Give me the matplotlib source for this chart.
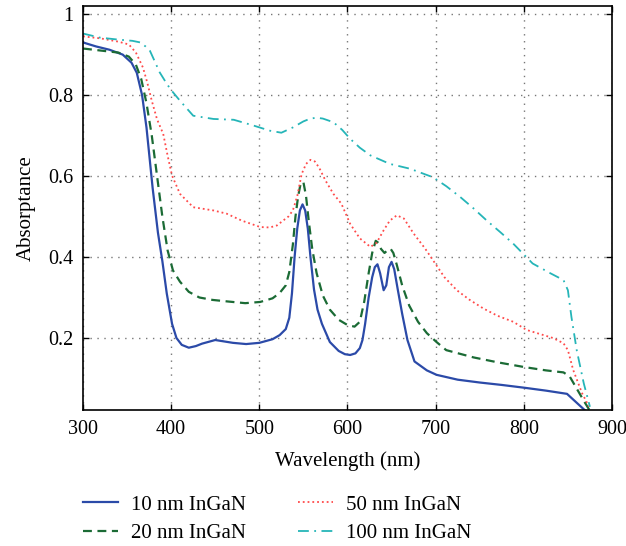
import matplotlib
matplotlib.use("Agg")
import matplotlib.pyplot as plt

# 10 nm InGaN
wl10 = [300, 315, 330, 345, 355, 361, 367, 372, 379, 385, 390, 395, 401, 406, 412, 420, 428,
        435, 450, 470, 485, 500, 515, 523, 530, 534, 537, 540, 543, 546, 549, 552, 555, 558,
        562, 566, 571, 580, 590, 597, 603, 609, 614, 617, 620, 624, 628, 631, 634, 637, 641,
        644, 647, 650, 653, 657, 662, 668, 676, 690, 701, 725, 750, 775, 801, 825, 849, 870]
ab10 = [0.93, 0.92, 0.912, 0.90, 0.88, 0.855, 0.80, 0.72, 0.57, 0.46, 0.39, 0.31, 0.235, 0.20,
        0.183, 0.176, 0.18, 0.186, 0.195, 0.188, 0.185, 0.188, 0.197, 0.207, 0.222, 0.25, 0.31,
        0.40, 0.47, 0.515, 0.53, 0.515, 0.47, 0.40, 0.32, 0.27, 0.235, 0.19, 0.168, 0.16, 0.158,
        0.162, 0.175, 0.195, 0.235, 0.30, 0.35, 0.375, 0.382, 0.36, 0.318, 0.33, 0.375, 0.388,
        0.37, 0.32, 0.26, 0.195, 0.142, 0.12, 0.109, 0.097, 0.09, 0.084, 0.077, 0.07, 0.062,
        0.02]

# 20 nm InGaN
wl20 = [300, 320, 340, 352, 360, 366, 372, 378, 384, 390, 396, 402, 410, 420, 432, 447, 465,
        484, 501, 515, 523, 530, 534, 538, 541, 544, 547, 550, 553, 556, 560, 565, 572, 580,
        590, 600, 608, 614, 619, 624, 628, 632, 635, 638, 642, 646, 649, 652, 656, 662, 670,
        680, 690, 701, 712, 724, 743, 770, 801, 825, 845, 852, 860, 868, 875]
ab20 = [0.915, 0.91, 0.905, 0.895, 0.875, 0.84, 0.78, 0.70, 0.60, 0.50, 0.416, 0.367, 0.339,
        0.314, 0.30, 0.294, 0.29, 0.286, 0.289, 0.298, 0.311, 0.33, 0.363, 0.43, 0.50, 0.55,
        0.583, 0.585, 0.55, 0.49, 0.42, 0.36, 0.305, 0.27, 0.245, 0.232, 0.228, 0.24, 0.29,
        0.36, 0.41, 0.44, 0.435, 0.42, 0.41, 0.418, 0.42, 0.41, 0.38, 0.33, 0.28, 0.24, 0.212,
        0.19, 0.17, 0.163, 0.152, 0.14, 0.128, 0.12, 0.115, 0.105, 0.075, 0.045, 0.02]

# 50 nm InGaN
wl50 = [300, 320, 340, 352, 360, 368, 373, 378, 384, 391, 396, 401, 410, 425, 448, 463, 480,
        501, 512, 520, 527, 533, 538, 543, 548, 553, 558, 563, 568, 575, 584, 593, 603, 614,
        626, 633, 641, 648, 656, 664, 675, 688, 697, 710, 724, 738, 754, 770, 788, 803, 818,
        833, 845, 850, 856, 866, 874]
ab50 = [0.945, 0.94, 0.932, 0.925, 0.905, 0.868, 0.83, 0.786, 0.74, 0.704, 0.65, 0.601, 0.556,
        0.523, 0.515, 0.507, 0.49, 0.474, 0.473, 0.478, 0.49, 0.50, 0.515, 0.55, 0.605, 0.63,
        0.64, 0.636, 0.62, 0.589, 0.556, 0.532, 0.482, 0.446, 0.425, 0.435, 0.466, 0.49, 0.503,
        0.495, 0.458, 0.421, 0.392, 0.35, 0.318, 0.295, 0.273, 0.255, 0.24, 0.22, 0.21, 0.20,
        0.187, 0.17, 0.121, 0.064, 0.03]

# 100 nm InGaN
wl100 = [300, 319, 340, 356, 365, 371, 376, 381, 387, 393, 399, 410, 425, 448, 471, 493, 512,
         525, 538, 550, 558, 565, 572, 584, 594, 603, 614, 626, 648, 671, 697, 712, 728, 743,
         758, 773, 788, 810, 830, 845, 850, 854, 860, 868, 875]
ab100 = [0.952, 0.942, 0.937, 0.934, 0.93, 0.92, 0.909, 0.885, 0.856, 0.835, 0.815, 0.786,
         0.749, 0.741, 0.739, 0.725, 0.712, 0.707, 0.72, 0.735, 0.742, 0.744, 0.742, 0.733,
         0.714, 0.692, 0.67, 0.651, 0.63, 0.618, 0.597, 0.575, 0.548, 0.52, 0.49, 0.462, 0.433,
         0.384, 0.36, 0.343, 0.318, 0.252, 0.17, 0.088, 0.03]

labels = ["10 nm InGaN", "20 nm InGaN", "50 nm InGaN", "100 nm InGaN"]

plt.rcParams["font.family"] = ["Liberation Serif", "DejaVu Serif"]
plt.rcParams["font.size"] = 15

fig = plt.figure(figsize=(6.26, 5.46), dpi=100)
ax = fig.add_axes([0.1326, 0.249, 0.845, 0.74])

ax.plot(wl10, ab10, "-", color="#2b4aa8", lw=1.6, label=labels[0])
ax.plot(wl20, ab20, "--", color="#1b6b35", lw=1.6, dashes=(4, 2.5), label=labels[1])
ax.plot(wl50, ab50, ":", color="#ff4a4a", lw=1.3, label=labels[2])
ax.plot(wl100, ab100, "-.", color="#25b5b8", lw=1.3, dashes=(6, 3, 1, 3), label=labels[3])

ax.set_xlim(300, 900)
ax.set_ylim(0.022, 1.02)
ax.set_xticks([300, 400, 500, 600, 700, 800, 900])
ax.set_yticks([0.2, 0.4, 0.6, 0.8, 1.0])
ax.set_yticklabels(["0.2", "0.4", "0.6", "0.8", "1"])
ax.tick_params(direction="in", top=True, right=True, length=4, width=1, pad=7,
               labelsize=14.5)
ax.grid(True, linestyle=(0, (1, 4)), color="#777777", lw=1)
for s in ax.spines.values():
    s.set_linewidth(1.2)

ax.set_xlabel("Wavelength (nm)", labelpad=9)
ax.set_ylabel("Absorptance", labelpad=9)

fig.legend(loc="upper left", bbox_to_anchor=(83 / 626, 1 - 495 / 546), ncol=2, frameon=False,
           handlelength=1.7, columnspacing=2.5, labelspacing=0.42, handletextpad=0.6,
           borderaxespad=0, borderpad=0)

fig.savefig("out.png", dpi=100)
